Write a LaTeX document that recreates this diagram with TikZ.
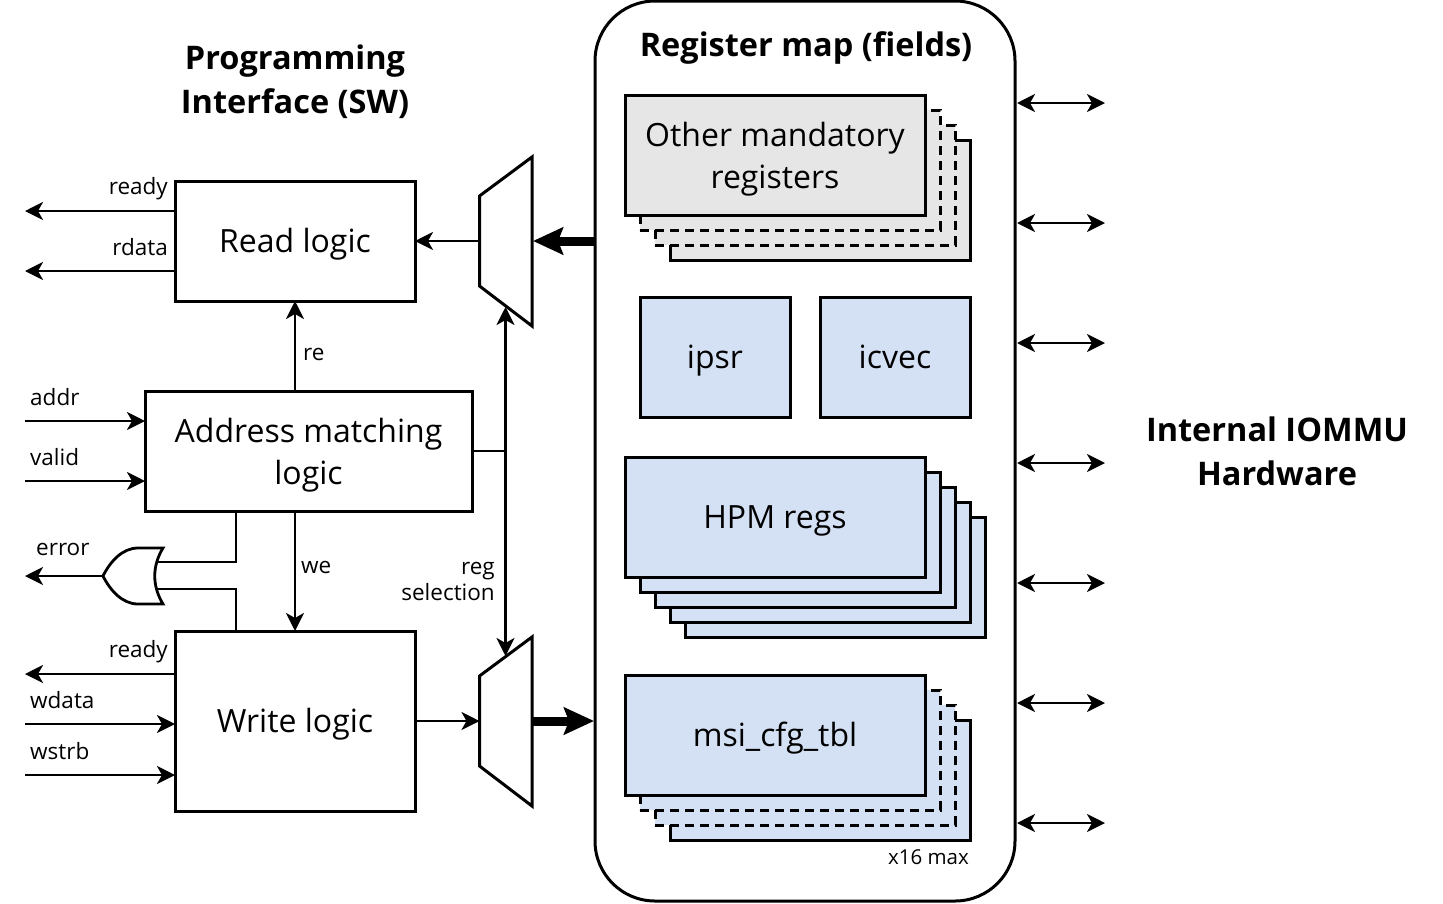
\documentclass[tikz,border=0pt]{standalone}
\usepackage{fontspec}
\setmainfont{Open Sans}
\usepackage{tikz}
\usetikzlibrary{arrows.meta}
\definecolor{regblue}{HTML}{D4E1F5}
\definecolor{reggray}{HTML}{E6E6E6}
\newcommand{\boxstrut}{\rule[-9.6pt]{0pt}{42pt}}
\newcommand{\twoline}{\rule{0pt}{34pt}}
\tikzset{box/.style={draw, line width=3pt, outer sep=0pt, minimum width=#1, inner sep=0pt, align=center, font=\fontsize{32}{42}\selectfont, execute at begin node=\boxstrut, execute at end node=\boxstrut},
  box/.default=240pt,
  reg/.style={box=300pt, minimum height=120pt, fill=regblue},
  dashreg/.style={reg, dashed, dash pattern=on 9pt off 6pt},
  wire/.style={line width=2.8pt, -{Stealth[length=18pt,width=18pt,inset=5pt]}},
  bothwire/.style={line width=2.8pt, {Stealth[length=18pt,width=18pt,inset=5pt]}-{Stealth[length=18pt,width=18pt,inset=5pt]}},
  bus/.style={line width=9pt, -{Stealth[length=30pt,width=27pt,inset=5pt]}},
  lbl/.style={inner sep=0pt, yshift=-2pt, font=\fontsize{22.5}{26}\selectfont},
  title/.style={inner sep=0pt, align=center, font=\fontsize{32.5}{44}\selectfont\bfseries}}

\begin{document}
\begin{tikzpicture}[x=1pt,y=-1pt]
  \useasboundingbox (0,0) rectangle (1443,903);
  % register map
  \node[draw, line width=3pt, outer sep=0pt, rounded corners=60pt, minimum width=420pt, minimum height=900pt] (map) at (805,451) {};
  \node[title] (maptitle) at (806,48) {Register map (fields)};
  \node[reg, fill=reggray] (o3) at (820,200) {};
  \node[dashreg, fill=reggray] (o2) at (805,185) {};
  \node[dashreg, fill=reggray] (o1) at (790,170) {};
  \node[reg, fill=reggray] (other) at (775,155) {\twoline Other mandatory\\registers};
  \node[box=150pt, minimum height=120pt, fill=regblue] (ipsr) at (715,357) {ipsr};
  \node[box=150pt, minimum height=120pt, fill=regblue] (icvec) at (895,357) {icvec};
  \node[reg] (h4) at (835,577) {};
  \node[reg] (h3) at (820,562) {};
  \node[reg] (h2) at (805,547) {};
  \node[reg] (h1) at (790,532) {};
  \node[reg] (hpm) at (775,517) {HPM regs};
  \node[reg] (m3) at (820,780) {};
  \node[dashreg] (m2) at (805,765) {};
  \node[dashreg] (m1) at (790,750) {};
  \node[reg] (msi) at (775,735) {msi\_cfg\_tbl};
  \node[lbl, font=\fontsize{20.5}{26}\selectfont] (max) at (928.5,855) {x16 max};
  % logic blocks
  \node[title] (swtitle) at (295,82) {Programming\\Interface (SW)};
  \node[box, minimum height=120pt] (read) at (295,241) {Read logic};
  \node[box=327pt, minimum height=120pt] (addr) at (308.5,451) {\twoline Address matching\\logic};
  \node[box, minimum height=180pt] (write) at (295,721) {Write logic};
  \node[title] (hwtitle) at (1277,451) {Internal IOMMU\\Hardware};
  % muxes
  \draw[line width=3pt, fill=white] (479.5,196) coordinate (mra) -- (532,157) -- (532,326) -- (479.5,286) -- cycle;
  \draw[line width=3pt, fill=white] (479.5,676) coordinate (mwa) -- (532,637) -- (532,806) -- (479.5,766) -- cycle;
  \coordinate (mrl) at (479.5,241);
  \coordinate (mrr) at (533,241);
  \coordinate (mwl) at (479.5,721);
  \coordinate (mwr) at (532,721);
  \draw[bus] (map.west |- mrr) -- (mrr);
  \draw[bus] (mwr) -- (594,721);
  \draw[wire] (mrl) -- (read.east |- mrl);
  \draw[wire] (write.east |- mwl) -- (mwl);
  % select lines
  \coordinate (seltop) at (505.5,307);
  \coordinate (selbot) at (505.5,656);
  \coordinate (sel) at (505.5,451);
  \draw[line width=2.8pt] (addr.east) -- (sel);
  \draw[bothwire] (seltop) -- (selbot);
  \node[lbl, anchor=east, align=right] (regsel) at (495,579) {reg\\selection};
  \draw[wire] (read.south |- addr.north) -- (read.south);
  \draw[wire] (write.north |- addr.south) -- (write.north);
  \node[lbl, anchor=west] (re) at (303,352) {re};
  \node[lbl, anchor=west] (we) at (301,565) {we};
  % or gate
  \draw[line width=2.8pt, fill=white] (163,548) .. controls (152,566) and (152,586) .. (163,604) -- (138,604)
    .. controls (122,604) and (110,590) .. (103,576) coordinate (orout) .. controls (110,562) and (122,548) .. (138,548) -- cycle;
  \coordinate (orin1) at (157,562);
  \coordinate (orin2) at (157,589);
  \coordinate (erra) at (236,511);
  \coordinate (errw) at (236,631);
  \draw[line width=2.8pt] (orin1) -| (erra);
  \draw[line width=2.8pt] (orin2) -| (errw);
  \coordinate (errend) at (25,576);
  \draw[wire] (orout) -- (errend);
  \node[lbl, anchor=west] (errlbl) at (36,547) {error};
  % software side ports
  \coordinate (rr) at (25,211);
  \coordinate (rd) at (25,271);
  \coordinate (ad) at (25,421);
  \coordinate (va) at (25,481);
  \coordinate (wr) at (25,674);
  \coordinate (wd) at (25,724);
  \coordinate (ws) at (25,775);
  \draw[wire] (read.west |- rr) -- (rr);
  \draw[wire] (read.west |- rd) -- (rd);
  \draw[wire] (ad) -- (addr.west |- ad);
  \draw[wire] (va) -- (addr.west |- va);
  \draw[wire] (write.west |- wr) -- (wr);
  \draw[wire] (wd) -- (write.west |- wd);
  \draw[wire] (ws) -- (write.west |- ws);
  \node[lbl, anchor=east] (l1) at (168,187) {ready};
  \node[lbl, anchor=east] (l2) at (168,245) {rdata};
  \node[lbl, anchor=west] (l3) at (30,395) {addr};
  \node[lbl, anchor=west] (l4) at (30,455) {valid};
  \node[lbl, anchor=east] (l5) at (168,650) {ready};
  \node[lbl, anchor=west] (l6) at (30,698) {wdata};
  \node[lbl, anchor=west] (l7) at (30,749) {wstrb};
  % hardware side ports
  \coordinate (p1) at (1105,103);
  \coordinate (p2) at (1105,223);
  \coordinate (p3) at (1105,343);
  \coordinate (p4) at (1105,463);
  \coordinate (p5) at (1105,583);
  \coordinate (p6) at (1105,703);
  \coordinate (p7) at (1105,823);
  \draw[bothwire] (1017,0 |- p1) -- (p1);
  \draw[bothwire] (1017,0 |- p2) -- (p2);
  \draw[bothwire] (1017,0 |- p3) -- (p3);
  \draw[bothwire] (1017,0 |- p4) -- (p4);
  \draw[bothwire] (1017,0 |- p5) -- (p5);
  \draw[bothwire] (1017,0 |- p6) -- (p6);
  \draw[bothwire] (1017,0 |- p7) -- (p7);
\end{tikzpicture}
\end{document}
